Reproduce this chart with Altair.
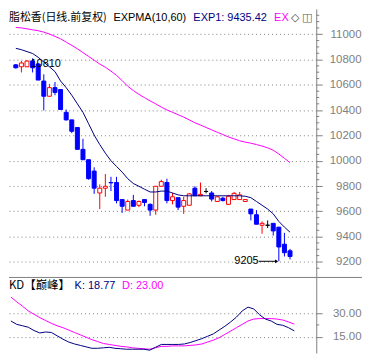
import altair as alt
import pandas as pd

# ---------------- data ----------------
opens = [10758, 10743, 10743, 10788, 10765, 10630, 10510, 10578, 10563, 10383,
         10323, 10263, 10090, 10008, 9918, 9745, 9783, 9828, 9828, 9693,
         9610, 9685, 9648, 9693, 9655, 9610, 9798, 9828, 9685, 9708,
         9640, 9648, 9783, 9723, 9757, 9745, 9678, 9704, 9655, 9693,
         9693, 9678, 9618, 9573, 9490, 9490, 9505, 9475, 9340, 9288]
highs = [10765, 10788, 10795, 10810, 10773, 10683, 10608, 10623, 10563, 10405,
         10323, 10263, 10173, 10008, 9948, 9813, 9895, 9873, 9873, 9693,
         9693, 9730, 9685, 9693, 9663, 9798, 9850, 9858, 9745, 9708,
         9715, 9745, 9798, 9828, 9783, 9760, 9718, 9715, 9730, 9753,
         9753, 9693, 9618, 9610, 9520, 9528, 9505, 9475, 9430, 9303]
lows = [10728, 10698, 10743, 10698, 10638, 10398, 10510, 10518, 10405, 10318,
        10218, 10090, 10008, 9850, 9738, 9618, 9715, 9760, 9663, 9588,
        9610, 9640, 9633, 9640, 9565, 9573, 9798, 9663, 9655, 9610,
        9580, 9648, 9723, 9723, 9742, 9678, 9678, 9678, 9655, 9693,
        9693, 9678, 9528, 9498, 9423, 9468, 9408, 9205, 9243, 9220]
closes = [10735, 10773, 10788, 10735, 10638, 10510, 10578, 10540, 10405, 10323,
          10233, 10090, 10008, 9858, 9783, 9783, 9798, 9825, 9685, 9640,
          9678, 9640, 9678, 9670, 9610, 9798, 9835, 9685, 9715, 9633,
          9685, 9738, 9723, 9734, 9757, 9697, 9715, 9685, 9719, 9742,
          9730, 9693, 9580, 9498, 9505, 9490, 9445, 9318, 9273, 9243]
exp1 = [10889, 10878, 10863, 10848, 10818, 10780, 10743, 10705, 10630, 10578,
        10518, 10450, 10383, 10293, 10203, 10128, 10060, 10000, 9955, 9910,
        9858, 9820, 9798, 9775, 9753, 9753, 9760, 9760, 9745, 9730,
        9723, 9723, 9723, 9723, 9723, 9723, 9723, 9723, 9723, 9723,
        9723, 9719, 9708, 9678, 9648, 9618, 9580, 9520, 9475, 9435]
exp2 = [11054, 11050, 11043, 11035, 11028, 11017, 11002, 10983, 10964, 10938,
        10912, 10885, 10855, 10825, 10795, 10765, 10739, 10709, 10675, 10634,
        10589, 10555, 10525, 10499, 10473, 10450, 10424, 10402, 10383, 10364,
        10345, 10323, 10300, 10282, 10263, 10244, 10225, 10207, 10188, 10173,
        10158, 10147, 10139, 10128, 10116, 10102, 10083, 10053, 10019, 9985]
k_vals = [25.02, 22.89, 21.98, 21.07, 18.95, 17.43, 18.04, 17.73, 15.61, 13.48,
          11.66, 10.45, 9.54, 8.62, 7.71, 7.71, 8.02, 8.32, 7.71, 7.41,
          7.11, 7.11, 7.11, 7.11, 6.50, 8.32, 10.14, 10.14, 10.14, 10.14,
          10.45, 11.36, 12.57, 13.79, 15.30, 16.82, 19.25, 21.68, 24.41, 27.45,
          31.39, 33.82, 32.61, 28.96, 26.23, 25.02, 22.89, 22.29, 20.77, 18.77]
d_vals = [40.20, 37.16, 34.43, 31.39, 29.26, 27.14, 25.32, 23.50, 21.98, 20.77,
          19.25, 17.73, 16.21, 14.70, 13.18, 11.96, 10.75, 10.14, 9.54, 8.93,
          8.62, 8.02, 7.71, 7.41, 7.11, 8.02, 8.93, 8.93, 9.23, 9.23,
          9.23, 9.54, 9.84, 10.45, 11.66, 12.87, 14.39, 16.52, 18.64, 20.77,
          22.89, 25.02, 26.23, 26.54, 26.54, 26.54, 26.23, 25.63, 24.41, 23.00]

price_ticks = [9200, 9400, 9600, 9800, 10000, 10200, 10400, 10600, 10800, 11000]
price_minor = [9150, 9250, 9300, 9350, 9450, 9500, 9550, 9650, 9700, 9750,
               9850, 9900, 9950, 10050, 10100, 10150, 10250, 10300, 10350,
               10450, 10500, 10550, 10650, 10700, 10750, 10850, 10900, 10950,
               11050, 11100, 11150]
kd_ticks = [15, 30]
kd_minor = [22.5]

title_main = "脂松香(日线.前复权)"
title_ind = "EXPMA(10,60)"
title_exp1 = "EXP1: 9435.42"
title_exp2 = "EX"
kd_name = "KD【巅峰】"
kd_k = "K: 18.77"
kd_d = "D: 23.00"
hi_label = "10810"
lo_label = "9205"

# ---------------- layout ----------------
W = 309
H1 = 269
H2 = 76
TOTAL_W = 355
GRAY = "#808080"
BLUE = "#0000FF"
RED = "#FF0000"
NAVY = "#000080"
MAG = "#FF00FF"
LAT = "Liberation Sans"
CJK = "Noto Sans CJK SC"

n = len(opens)
df = pd.DataFrame({"i": list(range(n)), "open": opens, "high": highs,
                   "low": lows, "close": closes, "exp1": exp1, "exp2": exp2,
                   "k": k_vals, "d": d_vals})
df["col"] = [RED if c > o else (BLUE if c < o else "#000000")
             for o, c in zip(opens, closes)]
df["fill"] = ["#FFFFFF" if c > o else col
              for o, c, col in zip(opens, closes, df["col"])]

xs = alt.Scale(domain=[-0.33, 52.8], nice=False, zero=False)
ys = alt.Scale(domain=[9085, 11200], nice=False, zero=False)
ks = alt.Scale(domain=[4.7, 52.6], nice=False, zero=False)

yaxis = alt.Axis(orient="right", values=price_ticks, tickSize=6, tickColor=GRAY,
                 domainColor=GRAY, grid=True, gridColor=GRAY, gridDash=[1, 3],
                 labelColor=GRAY, labelFont=LAT, labelFontSize=11.5,
                 labelAlign="right", labelPadding=39, labelBaseline="middle",
                 format="d", labelOverlap=False, labelFlush=False, title=None)
kaxis = alt.Axis(orient="right", values=kd_ticks, tickSize=6, tickColor=GRAY,
                 domainColor=GRAY, grid=True, gridColor=GRAY, gridDash=[1, 3],
                 labelColor=GRAY, labelFont=LAT, labelFontSize=11.5,
                 labelAlign="right", labelPadding=39, labelBaseline="middle",
                 format=".2f", labelOverlap=False, labelFlush=False, title=None)

X = alt.X("i:Q", scale=xs, axis=None)
base = alt.Chart(df)


def txt(s, x, y, color, font, size, align="left"):
    return alt.Chart(pd.DataFrame({"t": [s]})).mark_text(
        align=align, baseline="middle", font=font, fontSize=size, color=color
    ).encode(x=alt.value(x), y=alt.value(y), text="t:N")


wicks = base.mark_rule(strokeWidth=1).encode(
    x=X, y=alt.Y("low:Q", scale=ys, axis=yaxis), y2="high:Q",
    color=alt.Color("col:N", scale=None))
bodies = base.mark_bar(size=4, strokeWidth=1).encode(
    x=X, y=alt.Y("open:Q", scale=ys, axis=yaxis), y2="close:Q",
    fill=alt.Fill("fill:N", scale=None), stroke=alt.Stroke("col:N", scale=None))
line1 = base.mark_line(color=NAVY, strokeWidth=1).encode(
    x=X, y=alt.Y("exp1:Q", scale=ys, axis=yaxis))
line2 = base.mark_line(color=MAG, strokeWidth=1).encode(
    x=X, y=alt.Y("exp2:Q", scale=ys, axis=yaxis))
minor = alt.Chart(pd.DataFrame({"v": price_minor})).mark_rule(color=GRAY).encode(
    y=alt.Y("v:Q", scale=ys, axis=yaxis), x=alt.value(W), x2=alt.value(W + 3))

hi_df = pd.DataFrame({"i": [2.63], "p": [highs[3]], "t": [hi_label]})
hi_txt = alt.Chart(hi_df).mark_text(align="left", baseline="top", font=LAT,
                                    fontSize=11, color="black").encode(
    x=alt.X("i:Q", scale=xs, axis=None),
    y=alt.Y("p:Q", scale=ys, axis=yaxis), text="t:N")
lo_df = pd.DataFrame({"i": [43.4], "i2": [46.6], "p": [min(lows)], "t": [lo_label]})
lo_txt = alt.Chart(lo_df).mark_text(align="right", baseline="middle", font=LAT,
                                    fontSize=11, color="black").encode(
    x=alt.X("i:Q", scale=xs, axis=None),
    y=alt.Y("p:Q", scale=ys, axis=yaxis), text="t:N")
lo_arrow = alt.Chart(lo_df).mark_rule(color="black", strokeWidth=1).encode(
    x=alt.X("i:Q", scale=xs, axis=None), x2="i2:Q",
    y=alt.Y("p:Q", scale=ys, axis=yaxis))
lo_head = alt.Chart(lo_df).mark_point(shape="triangle-right", filled=True,
                                      size=14, color="black", opacity=1).encode(
    x=alt.X("i2:Q", scale=xs, axis=None),
    y=alt.Y("p:Q", scale=ys, axis=yaxis))

TY = 9
top = alt.layer(
    wicks, bodies, line1, line2, minor, hi_txt, lo_txt, lo_arrow, lo_head,
    txt(title_main, 0, TY, "black", CJK, 11),
    txt(title_ind, 105, TY, "black", LAT, 11),
    txt(title_exp1, 185.4, TY, NAVY, LAT, 11),
    txt(title_exp2, 266.6, TY, MAG, LAT, 11),
    txt("◇", 287.7, TY, "#404040", "DejaVu Sans", 11, "center"),
    txt("◫", 299.8, TY, "#606060", "DejaVu Sans", 11, "center"),
).properties(width=W, height=H1)

kline = base.mark_line(color=NAVY, strokeWidth=1).encode(
    x=X, y=alt.Y("k:Q", scale=ks, axis=kaxis))
dline = base.mark_line(color=MAG, strokeWidth=1).encode(
    x=X, y=alt.Y("d:Q", scale=ks, axis=kaxis))
kminor = alt.Chart(pd.DataFrame({"v": kd_minor})).mark_rule(color=GRAY).encode(
    y=alt.Y("v:Q", scale=ks, axis=kaxis), x=alt.value(W), x2=alt.value(W + 3))
sep = alt.Chart(pd.DataFrame({"t": ["sep"]})).mark_rule(color=GRAY).encode(
    x=alt.value(0), x2=alt.value(TOTAL_W), y=alt.value(0))

bottom = alt.layer(
    dline, kline, kminor, sep,
    txt(kd_name, 0, 8.3, "black", CJK, 11.5),
    txt(kd_k, 66, 8.3, NAVY, LAT, 11),
    txt(kd_d, 113.7, 8.3, MAG, LAT, 11),
).properties(width=W, height=H2)

chart = alt.vconcat(top, bottom, spacing=0).properties(
    padding=0, background="white"
).configure_view(strokeWidth=0)

chart.save("out.html", embed_options={"renderer": "svg", "actions": False})
